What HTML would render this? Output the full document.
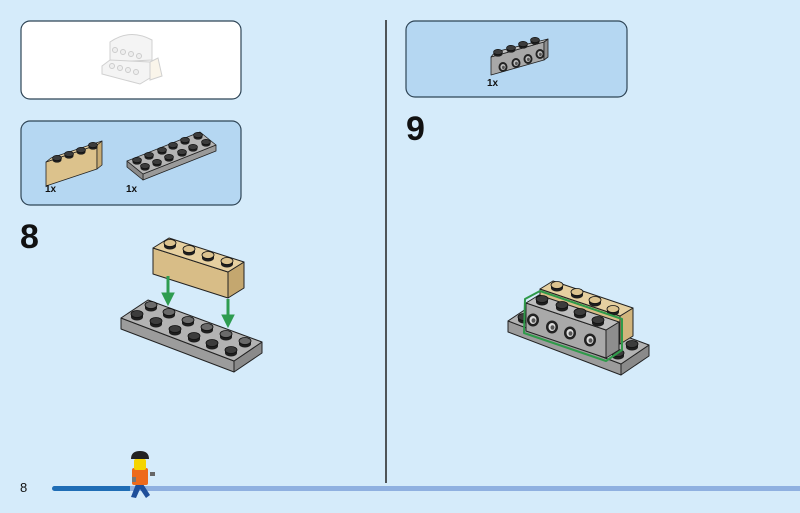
<!DOCTYPE html>
<html><head><meta charset="utf-8"><style>
html,body{margin:0;padding:0;background:#d5ebfa;}
svg{display:block}
text{font-family:"Liberation Sans",sans-serif;}
</style></head><body>
<svg width="800" height="513" viewBox="0 0 800 513" xmlns="http://www.w3.org/2000/svg">
<defs>
<g id="sd"><path d="M-6,-3 L-6,0 A6,3.5 0 0 0 6,0 L6,-3 Z" fill="#1e1e1e"/><ellipse cx="0" cy="-3" rx="6" ry="3.5" fill="#3c3c3c" stroke="#111" stroke-width="0.8"/></g>
<g id="sg"><path d="M-6,-3 L-6,0 A6,3.5 0 0 0 6,0 L6,-3 Z" fill="#1e1e1e"/><ellipse cx="0" cy="-3" rx="6" ry="3.5" fill="#6a6a6a" stroke="#111" stroke-width="0.8"/></g>
<g id="st"><path d="M-6,-3 L-6,0 A6,3.5 0 0 0 6,0 L6,-3 Z" fill="#1e1e1e"/><ellipse cx="0" cy="-3" rx="6" ry="3.5" fill="#dcc38f" stroke="#111" stroke-width="0.8"/></g>
<g id="ss"><path d="M-4.5,-2 L-4.5,0 A4.5,2.6 0 0 0 4.5,0 L4.5,-2 Z" fill="#1e1e1e"/><ellipse cx="0" cy="-2" rx="4.5" ry="2.6" fill="#3c3c3c" stroke="#111" stroke-width="0.7"/></g>
<g id="h"><ellipse cx="0" cy="0" rx="6" ry="6.5" fill="#222"/><ellipse cx="0" cy="0" rx="3.5" ry="4" fill="#ddd"/><ellipse cx="0.5" cy="0.5" rx="2" ry="2.3" fill="#555"/></g>
<g id="hs"><ellipse cx="0" cy="0" rx="4.5" ry="5" fill="#222"/><ellipse cx="0" cy="0" rx="2.6" ry="3" fill="#bbb"/><ellipse cx="0.4" cy="0.4" rx="1.4" ry="1.7" fill="#555"/></g>
</defs>

<line x1="386" y1="20" x2="386" y2="483" stroke="#222" stroke-width="1.5"/>

<!-- box 1 -->
<rect x="21" y="21" width="220" height="78" rx="9" fill="#fff" stroke="#2f4556" stroke-width="1.2"/>
<g fill="#f4f4f4" stroke="#d0d0d0" stroke-width="1">
<path d="M110,42 Q130,28 152,40 L152,60 L110,62 Z"/>
<path d="M102,66 L110,60 L150,62 L150,78 L140,84 L102,74 Z"/>
<path d="M150,62 L158,58 L162,76 L150,80 Z" fill="#faf5ea"/>
</g>
<g fill="#eee" stroke="#ccc"><circle cx="115" cy="50" r="2.5"/><circle cx="123" cy="52" r="2.5"/><circle cx="131" cy="54" r="2.5"/><circle cx="139" cy="56" r="2.5"/>
<circle cx="112" cy="66" r="2.5"/><circle cx="120" cy="68" r="2.5"/><circle cx="128" cy="70" r="2.5"/><circle cx="136" cy="72" r="2.5"/></g>

<!-- box 2 -->
<rect x="21" y="121" width="220" height="84" rx="9" fill="#b5d7f2" stroke="#2f4556" stroke-width="1.2"/>
<g stroke="#222" stroke-width="0.8" stroke-linejoin="round">
<polygon points="46,162 97,145 97,169 46,186" fill="#dcc28c"/>
<polygon points="97,145 102,141 102,165 97,169" fill="#c9ad76"/>
<polygon points="46,162 51,158 102,141 97,145" fill="#e8d3a6"/>
</g>
<use href="#ss" x="57" y="160"/><use href="#ss" x="69" y="156"/><use href="#ss" x="81" y="152"/><use href="#ss" x="93" y="147"/>
<g stroke="#222" stroke-width="0.8" stroke-linejoin="round">
<polygon points="143,174 216,145 216,151 143,180" fill="#9a9a9a"/>
<polygon points="127,161 143,174 143,180 127,167" fill="#8a8a8a"/>
<polygon points="127,161 200,132 216,145 143,174" fill="#b4b4b4"/>
</g>
<use href="#ss" x="137" y="162"/><use href="#ss" x="149" y="157"/><use href="#ss" x="162" y="152"/><use href="#ss" x="173" y="147"/><use href="#ss" x="185" y="142"/><use href="#ss" x="198" y="137"/>
<use href="#ss" x="145" y="168"/><use href="#ss" x="157" y="164"/><use href="#ss" x="169" y="159"/><use href="#ss" x="182" y="154"/><use href="#ss" x="193" y="149"/><use href="#ss" x="206" y="144"/>
<text x="45" y="192" font-size="10" font-weight="bold" fill="#111">1x</text>
<text x="126" y="192" font-size="10" font-weight="bold" fill="#111">1x</text>

<!-- step 8 -->
<text x="20" y="248" font-size="34" font-weight="bold" fill="#111">8</text>
<g stroke="#222" stroke-width="1" stroke-linejoin="round">
<polygon points="121,318 234,361 234,372 121,329" fill="#9c9c9c"/>
<polygon points="234,361 262,342 262,353 234,372" fill="#8a8a8a"/>
<polygon points="121,318 148,300 262,342 234,361" fill="#b3b3b3"/>
</g>
<use href="#sg" x="151" y="308"/><use href="#sg" x="169" y="315"/><use href="#sg" x="188" y="323"/><use href="#sg" x="207" y="330"/><use href="#sg" x="226" y="337"/><use href="#sg" x="245" y="344"/>
<use href="#sd" x="137" y="317"/><use href="#sd" x="156" y="324"/><use href="#sd" x="175" y="332"/><use href="#sd" x="194" y="339"/><use href="#sd" x="212" y="346"/><use href="#sd" x="231" y="353"/>
<g stroke="#222" stroke-width="1" stroke-linejoin="round">
<polygon points="153,248 228,272 228,298 153,274" fill="#d8bd87"/>
<polygon points="228,272 244,262 244,288 228,298" fill="#c4a76f"/>
<polygon points="153,248 169,238 244,262 228,272" fill="#e6d0a0"/>
</g>
<use href="#st" x="170" y="246"/><use href="#st" x="189" y="252"/><use href="#st" x="208" y="258"/><use href="#st" x="227" y="264"/>
<g stroke="#2e9c50" stroke-width="3" fill="#2e9c50">
<line x1="168" y1="276" x2="168" y2="296"/><polygon points="162,293 174,293 168,305" stroke-width="1"/>
<line x1="228" y1="299" x2="228" y2="318"/><polygon points="222,315 234,315 228,327" stroke-width="1"/>
</g>

<!-- box 3 -->
<rect x="406" y="21" width="221" height="76" rx="9" fill="#b5d7f2" stroke="#2f4556" stroke-width="1.2"/>
<g stroke="#222" stroke-width="0.8" stroke-linejoin="round">
<polygon points="491,57 544,42 544,60 491,75" fill="#a8a8a8"/>
<polygon points="544,42 548,39 548,57 544,60" fill="#8e8e8e"/>
<polygon points="491,57 495,52 548,39 544,42" fill="#c0c0c0"/>
</g>
<use href="#ss" x="498" y="54"/><use href="#ss" x="511" y="50"/><use href="#ss" x="523" y="46"/><use href="#ss" x="535" y="42"/>
<use href="#hs" x="503" y="67"/><use href="#hs" x="516" y="63"/><use href="#hs" x="528" y="59"/><use href="#hs" x="540" y="54"/>
<text x="487" y="86" font-size="10" font-weight="bold" fill="#111">1x</text>

<!-- step 9 -->
<text x="406" y="140" font-size="34" font-weight="bold" fill="#111">9</text>
<g stroke="#222" stroke-width="1" stroke-linejoin="round">
<polygon points="508,321 621,364 621,375 508,332" fill="#9c9c9c"/>
<polygon points="621,364 649,345 649,356 621,375" fill="#8a8a8a"/>
<polygon points="508,321 535,303 649,345 621,364" fill="#b3b3b3"/>
</g>
<use href="#sd" x="538" y="311"/><use href="#sd" x="524" y="320"/>
<use href="#sd" x="632" y="347"/><use href="#sd" x="618" y="356"/>
<g stroke="#222" stroke-width="1" stroke-linejoin="round">
<polygon points="540,289 620,316 620,344 540,317" fill="#d8bd87"/>
<polygon points="620,316 633,308 633,336 620,344" fill="#d2b57c"/>
<polygon points="540,289 553,281 633,308 620,316" fill="#e6d0a0"/>
</g>
<use href="#st" x="557" y="288"/><use href="#st" x="577" y="295"/><use href="#st" x="595" y="303"/><use href="#st" x="613" y="312"/>
<g stroke="#222" stroke-width="1" stroke-linejoin="round">
<polygon points="526,303 606,330 606,358 526,331" fill="#a9a9a9"/>
<polygon points="606,330 619,322 619,350 606,358" fill="#8e8e8e"/>
<polygon points="526,303 539,295 619,322 606,330" fill="#bdbdbd"/>
</g>
<use href="#sd" x="542" y="302"/><use href="#sd" x="562" y="308"/><use href="#sd" x="580" y="315"/><use href="#sd" x="598" y="323"/>
<use href="#h" x="533" y="320"/><use href="#h" x="552" y="327"/><use href="#h" x="570" y="333"/><use href="#h" x="590" y="340"/>
<polygon points="525,299 540,291 622,319 622,350 606,361 524,333" fill="none" stroke="#2f9a4a" stroke-width="2" stroke-linejoin="round"/>

<!-- bottom bar -->
<rect x="52" y="486" width="80" height="5" rx="2.5" fill="#1f6db5"/>
<rect x="130" y="486" width="670" height="5" fill="#8fb0e0"/>
<text x="20" y="492" font-size="13" fill="#111">8</text>

<!-- minifig -->
<path d="M131,497 L136,484 L143,484 L150,495 L146,498 L140,489 L136,498 Z" fill="#1f4f9a"/>
<rect x="132" y="468" width="16" height="17" rx="2" fill="#ee6a1c"/>
<rect x="150" y="472" width="5" height="4" fill="#666"/>
<rect x="132" y="477" width="4" height="5" fill="#777"/>
<rect x="134" y="459" width="12" height="11" rx="2" fill="#f5d400"/>
<path d="M131,459 Q131,451 140,451 Q149,451 149,459 Z" fill="#222"/>
</svg>
</body></html>
